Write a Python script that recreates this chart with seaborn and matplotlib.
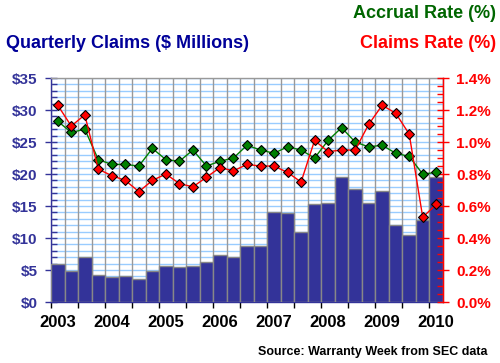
import numpy as np
import pandas as pd
import seaborn as sns
import matplotlib.pyplot as plt
from matplotlib.ticker import MultipleLocator, FixedLocator, FuncFormatter

# 季度数据 2003Q1 - 2010Q1
quarters = ['2003Q1', '2003Q2', '2003Q3', '2003Q4', '2004Q1', '2004Q2', '2004Q3', '2004Q4',
            '2005Q1', '2005Q2', '2005Q3', '2005Q4', '2006Q1', '2006Q2', '2006Q3', '2006Q4',
            '2007Q1', '2007Q2', '2007Q3', '2007Q4', '2008Q1', '2008Q2', '2008Q3', '2008Q4',
            '2009Q1', '2009Q2', '2009Q3', '2009Q4', '2010Q1']
claims = [6.0, 4.8, 7.0, 4.2, 3.9, 4.0, 3.6, 4.8,
          5.6, 5.4, 5.6, 6.2, 7.4, 7.0, 8.7, 8.7,
          14.1, 13.9, 11.0, 15.3, 15.4, 19.5, 17.7, 15.4,
          17.4, 12.0, 10.4, 12.8, 19.6]
accrual_rate = [1.13, 1.06, 1.08, 0.89, 0.86, 0.86, 0.85, 0.96,
                0.89, 0.88, 0.95, 0.85, 0.88, 0.90, 0.98, 0.95,
                0.93, 0.97, 0.95, 0.90, 1.01, 1.09, 1.00, 0.97,
                0.98, 0.93, 0.91, 0.80, 0.81]
claims_rate = [1.23, 1.10, 1.17, 0.83, 0.79, 0.76, 0.69, 0.76,
               0.80, 0.74, 0.72, 0.78, 0.84, 0.82, 0.86, 0.85,
               0.85, 0.81, 0.75, 1.01, 0.94, 0.95, 0.95, 1.11,
               1.23, 1.18, 1.05, 0.53, 0.61]
year_labels = ['2003', '2004', '2005', '2006', '2007', '2008', '2009', '2010']

df = pd.DataFrame({'quarter': quarters, 'claims': claims,
                   'accrual': accrual_rate, 'crate': claims_rate})
df['pos'] = np.arange(len(df))

navy = '#333399'
sns.set_style('white')
plt.rcParams['font.family'] = ['Liberation Sans', 'DejaVu Sans']
plt.rcParams['font.weight'] = 'bold'

fig = plt.figure(figsize=(5, 3.63), dpi=100)
ax = fig.add_axes([0.102, 0.168, 0.784, 0.617])

# 柱状图：季度索赔额
sns.barplot(data=df, x='quarter', y='claims', color=navy, saturation=1, width=1,
            edgecolor='#888888', linewidth=1, ax=ax, zorder=3)
ax.set_xlim(-0.5, len(df) - 0.5)
ax.set_ylim(0, 35)
ax.set_xlabel('')
ax.set_ylabel('')

# 网格
ax.yaxis.set_major_locator(MultipleLocator(5))
ax.yaxis.set_minor_locator(MultipleLocator(1))
ax.grid(which='both', axis='y', color='#99ccff', linewidth=1, zorder=0)
for b in np.arange(-0.5, len(df), 1):
    ax.axvline(b, color='#999999', linewidth=1, zorder=1)
ax.set_axisbelow(True)

ax.yaxis.set_major_formatter(FuncFormatter(lambda v, p: '$%d' % v))
ax.tick_params(axis='y', which='major', direction='inout', length=9, width=1,
               colors=navy, labelsize=11, pad=5)
ax.tick_params(axis='y', which='minor', direction='in', length=4, width=1, colors=navy, left=True)

ax.xaxis.set_major_locator(FixedLocator(np.arange(0, len(df), 4)))
ax.set_xticklabels(year_labels)
ax.xaxis.set_minor_locator(FixedLocator(np.arange(-0.5, len(df), 2)))
ax.tick_params(axis='x', which='major', length=0, labelsize=12, labelcolor='black', pad=9)
ax.tick_params(axis='x', which='minor', direction='out', length=4, width=1, color='black', bottom=True)

for side in ['top', 'right']:
    ax.spines[side].set_color('#999999')
ax.spines['left'].set_color(navy)
ax.spines['bottom'].set_color(navy)
for s in ax.spines.values():
    s.set_linewidth(1)

# 右轴：比率
ax2 = ax.twinx()
sns.lineplot(data=df, x='pos', y='accrual', color='#008000', linewidth=1, marker='D',
             markersize=5.3, markerfacecolor='#008000', markeredgecolor='black',
             markeredgewidth=0.8, ax=ax2, zorder=5)
sns.lineplot(data=df, x='pos', y='crate', color='#ff0000', linewidth=1, marker='D',
             markersize=5.3, markerfacecolor='#ff0000', markeredgecolor='black',
             markeredgewidth=0.8, ax=ax2, zorder=6)
ax2.set_xlim(-0.5, len(df) - 0.5)
ax2.set_ylim(0, 1.4)
ax2.set_xlabel('')
ax2.set_ylabel('')
ax2.yaxis.set_major_locator(MultipleLocator(0.2))
ax2.yaxis.set_minor_locator(MultipleLocator(0.05))
ax2.yaxis.set_major_formatter(FuncFormatter(lambda v, p: '%.1f%%' % v))
ax2.tick_params(axis='y', which='major', direction='inout', length=9, width=1,
                colors='#ff0000', labelsize=11, pad=5)
ax2.tick_params(axis='y', which='minor', direction='in', length=4, width=1, colors='#ff0000', right=True)
ax2.spines['right'].set_color('#ff0000')
ax2.spines['right'].set_linewidth(1)
for side in ['top', 'left', 'bottom']:
    ax2.spines[side].set_visible(False)
ax2.grid(False)

# 标题文字
fig.text(0.012, 0.8815, 'Quarterly Claims ($ Millions)', color='#000099', fontsize=13,
         fontweight='bold', ha='left', va='center')
fig.text(0.992, 0.964, 'Accrual Rate (%)', color='#006600', fontsize=13,
         fontweight='bold', ha='right', va='center')
fig.text(0.992, 0.8815, 'Claims Rate (%)', color='#ff0000', fontsize=13,
         fontweight='bold', ha='right', va='center')
fig.text(0.976, 0.03, 'Source: Warranty Week from SEC data', color='black', fontsize=9,
         fontweight='bold', ha='right', va='center')

fig.savefig('out.png', dpi=100)
